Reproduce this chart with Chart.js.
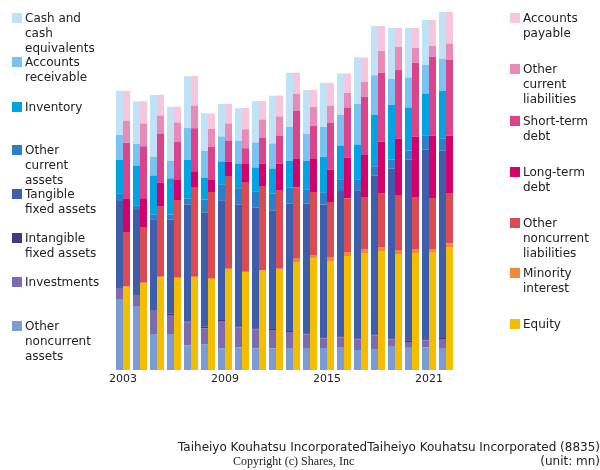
<!DOCTYPE html>
<html><head><meta charset="utf-8">
<script src="https://cdn.jsdelivr.net/npm/chart.js@4/dist/chart.umd.min.js"></script>
<style>
html,body{margin:0;padding:0;background:#fff;}
#wrap{position:relative;width:600px;height:470px;overflow:hidden;font-family:"DejaVu Sans",sans-serif;color:#222;}
canvas{position:absolute;left:0;top:0;}
.lg{position:absolute;font-size:12px;line-height:15px;white-space:nowrap;}
.sw{position:absolute;width:10px;height:10px;}
.t{position:absolute;font-size:12px;line-height:14px;white-space:nowrap;}
</style></head>
<body><div id="wrap"><canvas id="c" width="600" height="470"></canvas><div id="leg"></div>
<div class="t" style="right:0;top:440px;">Taiheiyo Kouhatsu IncorporatedTaiheiyo Kouhatsu Incorporated (8835)</div>
<div class="t" style="left:233px;top:454px;font-family:'Liberation Serif',serif;font-size:12px;">Copyright (c) Shares, Inc</div>
<div class="t" style="right:0;top:454px;">(unit: mn)</div>
</div>
<script>
const years = ['2003','2004','2005','2006','2007','2008','2009','2010','2011','2012','2013','2014','2015','2016','2017','2018','2019','2020','2021','2022'];
const tickLabels = ['2003','2009','2015','2021'];

// Assets (unit: mn)
const otherNoncurrentAssets = [7100,6400,3600,3600,2470,2570,2170,2270,2170,2170,2200,2200,2200,2300,2000,2100,2400,2300,2270,2200];
const investments = [1100,1100,2400,1900,2270,1600,2730,2000,1900,1830,1600,1370,970,970,1070,1370,670,500,700,900];
const intangibleFixedAssets = [0,0,0,130,100,170,100,100,100,100,100,100,100,100,100,100,100,170,100,100];
const tangibleFixedAssets = [8700,8500,9070,9430,11700,11400,11970,12170,12070,11830,12730,12970,13270,14530,14800,15870,16970,18070,18970,18730];
const otherCurrentAssets = [770,470,500,500,600,1300,1600,1630,1630,1700,1600,1430,1230,1170,1100,930,900,900,1430,1200];
const inventory = [3330,3970,3870,3600,3870,2170,2270,2470,2370,2530,2700,2830,3530,3370,3470,5130,5470,4300,4170,4800];
const accountsReceivable = [2500,2170,1870,1770,3200,2700,2500,2270,2500,2500,3370,2700,3000,3070,4070,3970,2600,3000,2870,3200];
const cashAndEquivalents = [4430,4230,6200,5400,5170,3770,3270,3270,4130,4770,5430,4400,4430,4130,4670,4930,5100,4970,4500,4670];

// Liabilities and equity (unit: mn)
const equity = [8270,8700,9300,9200,9300,9100,10100,9800,9930,10100,10800,11170,10900,11400,11700,11900,11600,11700,11800,12300];
const minorityInterest = [100,30,30,100,30,100,30,30,30,30,330,330,400,400,400,400,400,400,300,370];
const otherNoncurrentLiabilities = [5430,5570,7000,7700,8970,8600,9200,8900,8370,7800,7130,6300,5500,5370,5200,5400,5500,5200,5100,5030];
const longTermDebt = [3300,2870,2430,2000,1570,1200,1500,1870,2330,2730,2830,3300,3230,4070,4200,5130,5630,6030,6230,5730];
const shortTermDebt = [5630,5200,4900,3830,4300,3330,2130,1570,2600,2800,4800,3330,4670,5000,5830,6900,6900,7400,7900,7600];
const otherCurrentLiabilities = [2200,2270,1800,1930,2270,1800,1700,1900,1800,1900,1700,1870,1730,1470,1500,2200,2300,1470,1070,1630];
const accountsPayable = [3000,2230,2070,1570,2970,1530,1970,2130,1830,2100,2130,1700,2300,1930,2430,2470,1870,2000,2600,3130];

const assetSeries = [
  ['Other noncurrent assets', otherNoncurrentAssets, '#7b9bd3'],
  ['Investments', investments, '#7d6bb0'],
  ['Intangible fixed assets', intangibleFixedAssets, '#41388a'],
  ['Tangible fixed assets', tangibleFixedAssets, '#3d5eaa'],
  ['Other current assets', otherCurrentAssets, '#2a81ca'],
  ['Inventory', inventory, '#00a3e4'],
  ['Accounts receivable', accountsReceivable, '#78c3ef'],
  ['Cash and cash equivalents', cashAndEquivalents, '#c0e2f7']
];
const liabSeries = [
  ['Equity', equity, '#f5bd00'],
  ['Minority interest', minorityInterest, '#ee8a3c'],
  ['Other noncurrent liabilities', otherNoncurrentLiabilities, '#dc4a52'],
  ['Long-term debt', longTermDebt, '#d5006c'],
  ['Short-term debt', shortTermDebt, '#dc438d'],
  ['Other current liabilities', otherCurrentLiabilities, '#e98bb8'],
  ['Accounts payable', accountsPayable, '#f5c6dd']
];

const datasets = [];
assetSeries.forEach(s => datasets.push({label:s[0], data:s[1], backgroundColor:s[2], stack:'a', borderWidth:0}));
liabSeries.forEach(s => datasets.push({label:s[0], data:s[1], backgroundColor:s[2], stack:'l', borderWidth:0}));

new Chart(document.getElementById('c'), {
  type:'bar',
  data:{labels:years, datasets:datasets},
  options:{
    responsive:false, animation:false,
    layout:{padding:{left:114.5, right:145.5, top:12, bottom:80.8}},
    categoryPercentage:0.8235, barPercentage:1.0,
    plugins:{legend:{display:false}, tooltip:{enabled:false}},
    scales:{
      x:{stacked:true, grid:{display:false, drawTicks:false}, border:{display:false},
         ticks:{autoSkip:false, maxRotation:0, padding:3, color:'#222', font:{family:'DejaVu Sans', size:11},
           callback:function(v){ const l=this.getLabelForValue(v); return tickLabels.includes(l)?l:''; }}},
      y:{stacked:true, display:false, min:0, max:35800}
    }
  }
});

// legend
const leftLegend = [
  ['Cash and<br>cash<br>equivalents', '#c0e2f7', 13],
  ['Accounts<br>receivable', '#78c3ef', 57],
  ['Inventory', '#00a3e4', 101.5],
  ['Other<br>current<br>assets', '#2a81ca', 145],
  ['Tangible<br>fixed assets', '#3d5eaa', 189],
  ['Intangible<br>fixed assets', '#41388a', 233],
  ['Investments', '#7d6bb0', 277],
  ['Other<br>noncurrent<br>assets', '#7b9bd3', 321]
];
const rightLegend = [
  ['Accounts<br>payable', '#f5c6dd', 13.3],
  ['Other<br>current<br>liabilities', '#e98bb8', 64.3],
  ['Short-term<br>debt', '#dc438d', 115.7],
  ['Long-term<br>debt', '#d5006c', 166.7],
  ['Other<br>noncurrent<br>liabilities', '#dc4a52', 217.7],
  ['Minority<br>interest', '#ee8a3c', 268.3],
  ['Equity', '#f5bd00', 319.3]
];
const leg = document.getElementById('leg');
function addLeg(items, sx, tx){
  items.forEach(it => {
    const s = document.createElement('div'); s.className='sw';
    s.style.left=sx+'px'; s.style.top=it[2]+'px'; s.style.background=it[1]; leg.appendChild(s);
    const t = document.createElement('div'); t.className='lg';
    t.style.left=tx+'px'; t.style.top=(it[2]-2)+'px'; t.innerHTML=it[0]; leg.appendChild(t);
  });
}
addLeg(leftLegend, 12, 25);
addLeg(rightLegend, 510, 523);
</script>
</body></html>
